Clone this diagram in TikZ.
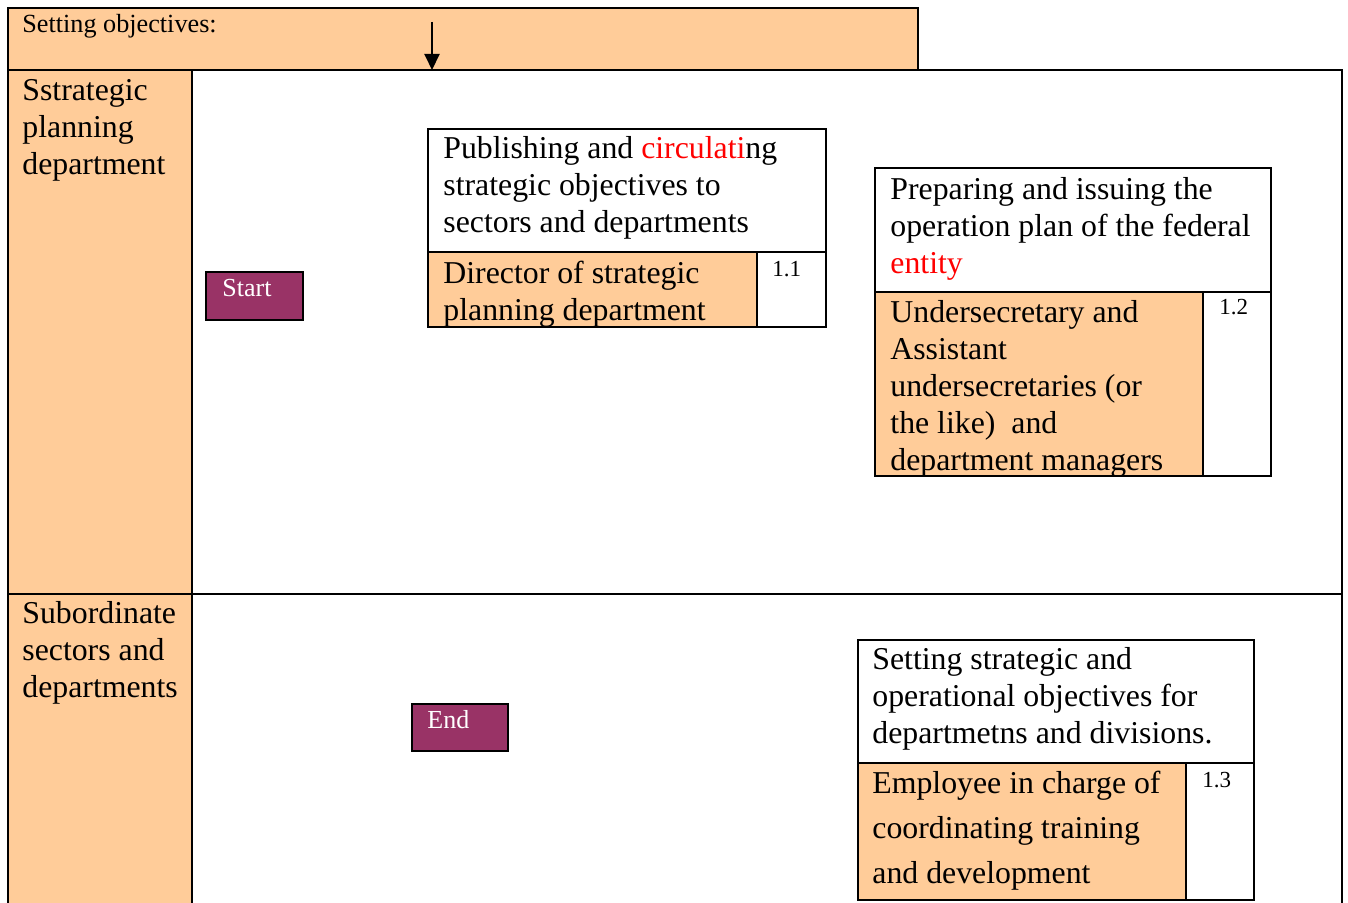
\documentclass[tikz,border=0pt]{standalone}
\usepackage{fontspec}
\setmainfont{Liberation Serif}
\usetikzlibrary{arrows.meta}
\definecolor{peach}{HTML}{FFCC99}
\definecolor{plum}{HTML}{993366}
\definecolor{hilite}{HTML}{FF0000}

\begin{document}
\begin{tikzpicture}
[x=0.5pt, y=-0.5pt, frame line/.style={line width=1pt}, lane fill/.style={fill=peach, draw=black, line width=1pt}, terminal/.style={fill=plum, draw=black, line width=1pt}, task text/.style={anchor=north west, inner sep=0pt, align=left, font=\fontsize{15.9}{18.5}\selectfont}, role text/.style={task text, font=\fontsize{15.9}{22.5}\selectfont}, number text/.style={anchor=base west, inner sep=0pt, font=\fontsize{11.5}{14}\selectfont}, terminal text/.style={anchor=base west, inner sep=0pt, text=white, font=\fontsize{13}{15}\selectfont}]
    \useasboundingbox (0,0) rectangle (1348,903);
    \coordinate (arrtop) at (432,22);
    \coordinate (arrend) at (432,70);
    % lanes
    \filldraw[lane fill] (8,8) rectangle (918,70);
    \filldraw[lane fill] (8,70) rectangle (192,910);
    \draw[frame line] (192,70) -- (1342,70) -- (1342,910);
    \draw[frame line] (8,594) -- (1342,594);
    \node[anchor=base west, inner sep=0pt, font=\fontsize{13.1}{15}\selectfont] (title) at (22,33) {Setting objectives:};
    \node[task text] (laneA) at (22,79) {Sstrategic\\planning\\department};
    \node[task text] (laneB) at (22,601) {Subordinate\\sectors and\\departments};
    \draw[frame line, -{Triangle[length=8pt, width=7.5pt]}] (arrtop) -- (arrend);
    % start and end
    \filldraw[terminal] (206,272) rectangle (303,320);
    \node[terminal text] (start) at (222,297) {Start};
    \filldraw[terminal] (412,704) rectangle (508,751);
    \node[terminal text] (finish) at (427,728) {End};
    % step 1.1
    \filldraw[fill=white, frame line] (428,129) rectangle (826,252);
    \filldraw[lane fill] (428,252) rectangle (757,327);
    \draw[frame line] (757,252) rectangle (826,327);
    \node[task text] (task11) at (443,136) {Publishing and \textcolor{hilite}{circulati}ng\\strategic objectives to\\sectors and departments};
    \node[task text] (role11) at (443,261) {Director of strategic\\planning department};
    \node[number text] (num11) at (772,277) {1.1};
    % step 1.2
    \filldraw[fill=white, frame line] (875,168) rectangle (1271,292);
    \filldraw[lane fill] (875,292) rectangle (1203,476);
    \draw[frame line] (1203,292) rectangle (1271,476);
    \node[task text] (task12) at (890,177) {Preparing and issuing the\\operation plan of the federal\\\textcolor{hilite}{entity}};
    \node[task text] (role12) at (890,300) {Undersecretary and\\Assistant\\undersecretaries (or\\the like)\ \ and\\department managers};
    \node[number text] (num12) at (1219,315) {1.2};
    % step 1.3
    \filldraw[fill=white, frame line] (858,640) rectangle (1254,763);
    \filldraw[lane fill] (858,763) rectangle (1186,900);
    \draw[frame line] (1186,763) rectangle (1254,900);
    \node[task text] (task13) at (872,647) {Setting strategic and\\operational objectives for\\departmetns and divisions.};
    \node[role text] (role13) at (872,771) {Employee in charge of\\coordinating training\\and development};
    \node[number text] (num13) at (1202,787) {1.3};
\end{tikzpicture}
\end{document}
